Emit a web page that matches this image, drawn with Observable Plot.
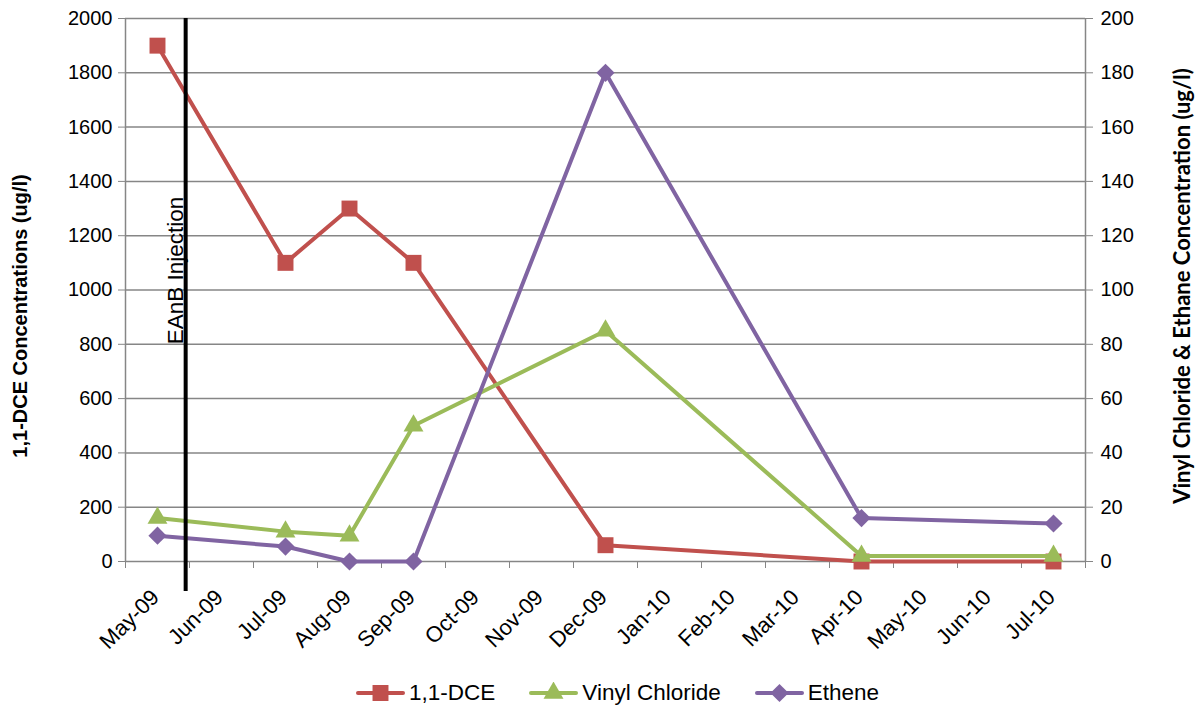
<!DOCTYPE html>
<html><head><meta charset="utf-8">
<script src="https://cdn.jsdelivr.net/npm/d3@7"></script>
<script src="https://cdn.jsdelivr.net/npm/@observablehq/plot@0.6"></script>
<style>
body{margin:0;background:#fff;font-family:"Liberation Sans",Arial,sans-serif;}
#chart svg{display:block;overflow:visible}
.legend{display:flex;align-items:center;height:41px;padding-left:356px;font-size:22.5px;color:#000}
.item{display:flex;align-items:center;margin-right:34px}
.item svg{margin-right:4px}
</style></head><body><div id="chart"></div><div class="legend" id="legend"></div>
<script>
const months = ["May-09","Jun-09","Jul-09","Aug-09","Sep-09","Oct-09","Nov-09","Dec-09","Jan-10","Feb-10","Mar-10","Apr-10","May-10","Jun-10","Jul-10"];
const sampleMonths = ["May-09","Jul-09","Aug-09","Sep-09","Dec-09","Apr-10","Jul-10"];
const dce = [1900,1100,1300,1100,60,0,0];
const vinylChloride = [16,11,9.5,50,85,2,2];
const ethene = [9.5,5.5,0,0,180,16,14];
const leftTicks = [0,200,400,600,800,1000,1200,1400,1600,1800,2000];
const rightTicks = [0,20,40,60,80,100,120,140,160,180,200];
const injectionMonth = 0.94; // late May 2009, months from start of May-09
const injectionLabel = "EAnB Injection";
const injectionLabelAt = 800;
const seriesNames = ["1,1-DCE","Vinyl Chloride","Ethene"];
const seriesColors = ["#C0504D","#9BBB59","#8064A2"];
const seriesSymbols = ["square","triangle","diamond2"];
const seriesAxis = ["left","right","right"];
const leftTitle = "1,1-DCE Concentrations (ug/l)";
const rightTitle = "Vinyl Chloride & Ethane Concentration (ug/l)";

const rightScale = leftTicks[leftTicks.length-1] / rightTicks[rightTicks.length-1];
const seriesValues = [dce, vinylChloride, ethene];
const pos = m => months.indexOf(m) + 0.5;
const rows = seriesValues.map((vals, s) => sampleMonths.map((m, i) => ({
  x: pos(m), y: vals[i] * (seriesAxis[s] === "right" ? rightScale : 1), s
})));
const symR = {square: 9, triangle: 7.4, diamond2: 8.2};

const seriesMarks = rows.flatMap((data, s) => [
  Plot.line(data, {x:"x", y:"y", stroke: seriesColors[s], strokeWidth: 4}),
  Plot.dot(data, {x:"x", y:"y", fill: seriesColors[s], symbol: seriesSymbols[s], r: symR[seriesSymbols[s]], stroke:"none"})
]);

const chart = Plot.plot({
  width: 1196, height: 672,
  marginLeft: 125, marginRight: 111, marginTop: 18, marginBottom: 111,
  x: {type: "linear", domain: [0, months.length]},
  y: {domain: [leftTicks[0], leftTicks[leftTicks.length-1]]},
  style: {fontFamily: "'Liberation Sans', Arial, sans-serif", fontSize: "20px", color: "#000", background: "#fff"},
  marks: [
    Plot.gridY(leftTicks, {stroke: "#868686", strokeOpacity: 1, strokeWidth: 1.5}),
    Plot.ruleX([0, months.length], {stroke: "#868686", strokeWidth: 1.5}),
    Plot.axisY(leftTicks, {anchor: "left", tickSize: 7, tickPadding: 6, stroke: "#868686", fill: "#000", fontSize: 20, label: null, tickFormat: d => String(d)}),
    Plot.axisY(rightTicks.map(d => d * rightScale), {anchor: "right", tickSize: 7, tickPadding: 8, stroke: "#868686", fill: "#000", fontSize: 20, label: null, tickFormat: d => String(d / rightScale)}),
    Plot.axisX(d3.range(months.length + 1), {tickSize: 7, tickFormat: () => "", stroke: "#868686", label: null}),
    Plot.axisX(months.map((m, i) => i + 0.5), {tickSize: 0, tickRotate: -45, tickPadding: 32, dx: -2, fontSize: 22, fill: "#000", label: null, tickFormat: d => months[Math.floor(d)]}),
    Plot.text([leftTitle], {frameAnchor: "left", rotate: -90, textAnchor: "middle", lineAnchor: "middle", dx: -105, dy: 26, fontWeight: "bold", fontSize: 20}),
    Plot.text([rightTitle], {frameAnchor: "right", rotate: -90, textAnchor: "middle", lineAnchor: "middle", dx: 97, dy: -4, fontWeight: "bold", fontSize: 22, fontFamily: "Lato, 'Open Sans', sans-serif"}),
    ...seriesMarks,
    Plot.ruleX([injectionMonth], {stroke: "#000", strokeWidth: 4, insetBottom: -30}),
    Plot.text([{x: injectionMonth, y: injectionLabelAt, t: injectionLabel}], {x: "x", y: "y", text: "t", rotate: -90, textAnchor: "start", lineAnchor: "middle", dx: -10, fontSize: 22.5})
  ]
});
document.getElementById("chart").appendChild(chart);

const legend = d3.select("#legend");
const symMap = {square: d3.symbolSquare, triangle: d3.symbolTriangle, diamond2: d3.symbolDiamond2};
seriesNames.forEach((name, s) => {
  const it = legend.append("div").attr("class", "item");
  const sv = it.append("svg").attr("width", 49).attr("height", 22);
  sv.append("line").attr("x1", 2).attr("x2", 47).attr("y1", 11).attr("y2", 11).attr("stroke", seriesColors[s]).attr("stroke-width", 4).attr("stroke-linecap", "round");
  const r = symR[seriesSymbols[s]];
  sv.append("path").attr("transform", "translate(24.5,11)").attr("fill", seriesColors[s])
    .attr("d", d3.symbol(symMap[seriesSymbols[s]], Math.PI * r * r)());
  it.append("span").text(name);
});
</script></body></html>
